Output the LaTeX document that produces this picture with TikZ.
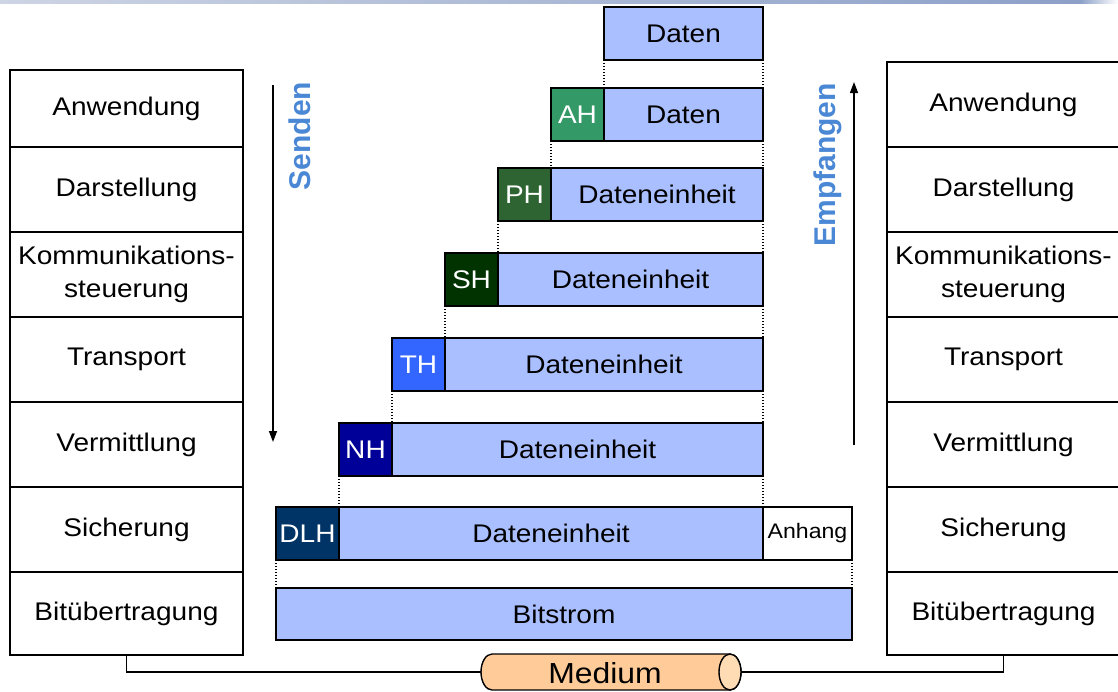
\documentclass[tikz,border=0pt]{standalone}
\usepackage{fontspec}
\setmainfont{Liberation Sans}[FakeStretch=1.1]
\newfontfamily\lblfont{Liberation Sans}
\usetikzlibrary{arrows.meta}
\definecolor{bodyc}{RGB}{170,191,255}
\definecolor{ahc}{RGB}{51,153,102}
\definecolor{phc}{RGB}{45,100,50}
\definecolor{shc}{RGB}{0,51,0}
\definecolor{thc}{RGB}{51,102,255}
\definecolor{nhc}{RGB}{0,0,153}
\definecolor{dlhc}{RGB}{0,51,102}
\definecolor{lblblue}{RGB}{74,136,213}
\definecolor{medfill}{RGB}{255,204,153}
\definecolor{medend}{RGB}{255,220,180}
\definecolor{topl}{RGB}{205,212,228}
\definecolor{topr}{RGB}{140,160,200}
\newcommand\fsz{\fontsize{25.5}{33}\selectfont}
\begin{document}
\begin{tikzpicture}[x=1pt,y=-1pt,
  layer/.style={draw=black, line width=1.4pt, fill=white, inner sep=0pt, outer sep=0pt, align=center, font=\fsz, minimum width=233pt, minimum height=85pt},
  pdu/.style={draw=black, line width=1.4pt, fill=bodyc, inner sep=0pt, outer sep=0pt, minimum height=53pt, font=\fsz},
  hdr/.style={pdu, text=white, minimum width=53pt},
  guide/.style={line width=1.4pt, dash pattern=on 1.4pt off 1.6pt},
  flow/.style={line width=1.4pt, -{Triangle[length=11pt,width=8pt]}},
  dirlbl/.style={rotate=90, text=lblblue, font=\lblfont\fontsize{30}{36}\selectfont\bfseries},
  link/.style={line width=1.4pt}]
\useasboundingbox (0,0) rectangle (1118,691);
% top rule
\shade[left color=topl, right color=topr] (0,0) rectangle (1080,3);
\shade[left color=topr, right color=white] (1080,0) rectangle (1118,3);

% left stack
\node[layer, anchor=north west, minimum height=77pt] (l1) at (10,70) {Anwendung};
\node[layer, anchor=north] (l2) at (l1.south) {Darstellung};
\node[layer, anchor=north] (l3) at (l2.south) {Kommunikations-\\steuerung};
\node[layer, anchor=north] (l4) at (l3.south) {Transport};
\node[layer, anchor=north] (l5) at (l4.south) {Vermittlung};
\node[layer, anchor=north] (l6) at (l5.south) {Sicherung};
\node[layer, anchor=north, minimum height=83pt] (l7) at (l6.south) {Bitübertragung};

% right stack
\node[layer, anchor=north west] (r1) at (887,62) {Anwendung};
\node[layer, anchor=north] (r2) at (r1.south) {Darstellung};
\node[layer, anchor=north] (r3) at (r2.south) {Kommunikations-\\steuerung};
\node[layer, anchor=north] (r4) at (r3.south) {Transport};
\node[layer, anchor=north] (r5) at (r4.south) {Vermittlung};
\node[layer, anchor=north] (r6) at (r5.south) {Sicherung};
\node[layer, anchor=north, minimum height=83pt] (r7) at (r6.south) {Bitübertragung};

% data units
\node[pdu, anchor=north west, minimum width=159pt] (d0) at (604,7) {Daten};
\node[hdr, anchor=north west, fill=ahc] (ah) at (551,88) {AH};
\node[pdu, anchor=west, minimum width=159pt] (ahd) at (ah.east) {Daten};
\node[hdr, anchor=north west, fill=phc] (ph) at (498,168) {PH};
\node[pdu, anchor=west, minimum width=212pt] (phd) at (ph.east) {Dateneinheit};
\node[hdr, anchor=north west, fill=shc] (sh) at (445,253) {SH};
\node[pdu, anchor=west, minimum width=265pt] (shd) at (sh.east) {Dateneinheit};
\node[hdr, anchor=north west, fill=thc] (th) at (392,338) {TH};
\node[pdu, anchor=west, minimum width=318pt] (thd) at (th.east) {Dateneinheit};
\node[hdr, anchor=north west, fill=nhc] (nh) at (339,423) {NH};
\node[pdu, anchor=west, minimum width=371pt] (nhd) at (nh.east) {Dateneinheit};
\node[hdr, anchor=north west, fill=dlhc, minimum width=63pt] (dlh) at (276,507) {DLH};
\node[pdu, anchor=west, minimum width=424pt] (dlhd) at (dlh.east) {Dateneinheit};
\node[pdu, anchor=west, minimum width=89pt, fill=white, font=\fontsize{21}{25}\selectfont] (anh) at (dlhd.east) {Anhang};
\node[pdu, anchor=north west, minimum width=576pt, minimum height=52pt] (bit) at (276,588) {Bitstrom};

% dotted guides
\draw[guide] (d0.south west) -- (ahd.north west);
\draw[guide] (d0.south east) -- (ahd.north east);
\draw[guide] (ah.south west) -- (phd.north west);
\draw[guide] (ahd.south east) -- (phd.north east);
\draw[guide] (ph.south west) -- (shd.north west);
\draw[guide] (phd.south east) -- (shd.north east);
\draw[guide] (sh.south west) -- (thd.north west);
\draw[guide] (shd.south east) -- (thd.north east);
\draw[guide] (th.south west) -- (nhd.north west);
\draw[guide] (thd.south east) -- (nhd.north east);
\draw[guide] (nh.south west) -- (dlhd.north west);
\draw[guide] (nhd.south east) -- (dlhd.north east);
\draw[guide] (dlh.south west) -- (bit.north west);
\draw[guide] (anh.south east) -- (bit.north east);

% direction arrows
\coordinate (s1) at (273,85);
\coordinate (s2) at (273,442);
\draw[flow] (s1) -- (s2);
\node[dirlbl] (send) at (300,136) {Senden};
\coordinate (e1) at (854,445);
\coordinate (e2) at (854,82);
\draw[flow] (e1) -- (e2);
\node[dirlbl] (recv) at (828,165) {Empfangen};

% medium cylinder
\draw[line width=1.4pt, fill=medfill] (730,654) -- (492,654)
  arc[start angle=270, end angle=90, x radius=11, y radius=18] -- (730,690)
  arc[start angle=90, end angle=-90, x radius=11, y radius=18] -- cycle;
\draw[line width=1.4pt, fill=medend] (730,672) ellipse[x radius=11, y radius=18];
\node[font=\fontsize{29}{34}\selectfont] (med) at (605,673) {Medium};
\coordinate (medL) at (481,672);
\coordinate (medR) at (741,672);
\draw[link] (l7.south) |- (medL);
\draw[link] (r7.south) |- (medR);
\end{tikzpicture}
\end{document}
